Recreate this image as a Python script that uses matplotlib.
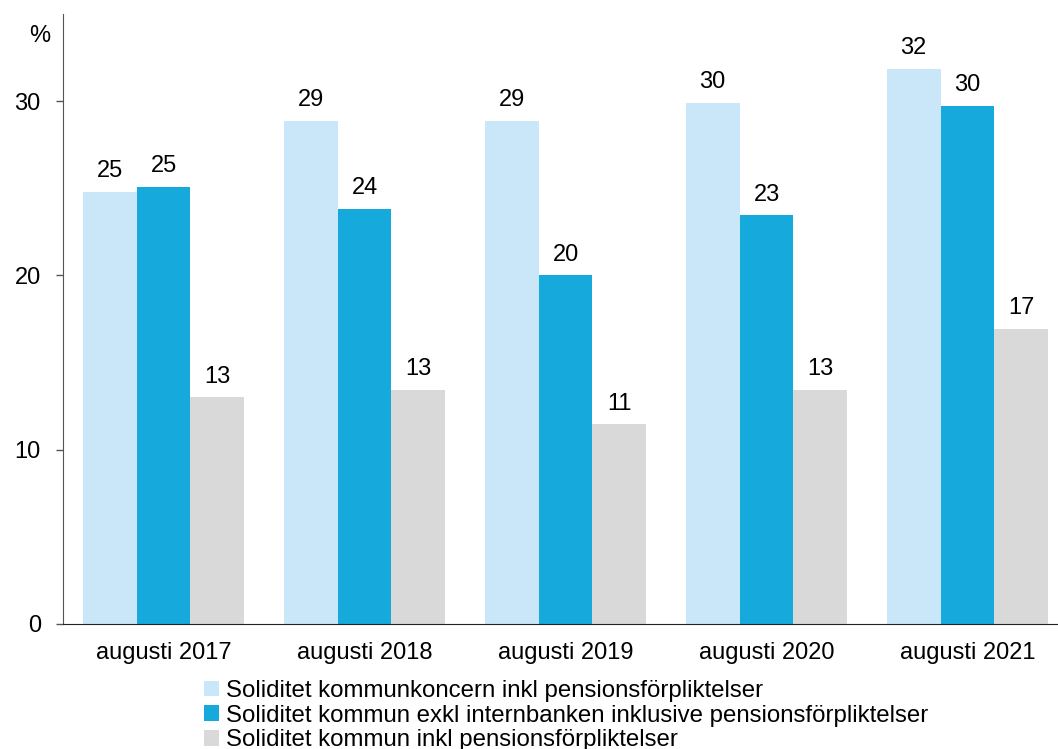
import numpy as np
import matplotlib.pyplot as plt

plt.rcParams['font.family'] = ['Liberation Sans', 'DejaVu Sans']

categories = ['augusti 2017', 'augusti 2018', 'augusti 2019', 'augusti 2020', 'augusti 2021']
koncern = [24.8, 28.85, 28.85, 29.9, 31.85]
exkl_internbank = [25.1, 23.8, 20.0, 23.45, 29.75]
kommun_inkl = [13.0, 13.45, 11.45, 13.45, 16.95]
series_names = ['Soliditet kommunkoncern inkl pensionsförpliktelser',
                'Soliditet kommun exkl internbanken inklusive pensionsförpliktelser',
                'Soliditet kommun inkl pensionsförpliktelser']
colors = ['#C9E7F8', '#15A9DC', '#D9D9D9']

fig = plt.figure(figsize=(10.58, 7.49), dpi=100)
ax = fig.add_axes([63 / 1058, 1 - 624 / 749, 1 - 63 / 1058, (624 - 14) / 749])

x = np.arange(len(categories))
w = 0.268
for i, (vals, name, c) in enumerate(zip([koncern, exkl_internbank, kommun_inkl], series_names, colors)):
    pos = x + (i - 1) * w
    ax.bar(pos, vals, width=w, color=c, label=name)
    for p, v in zip(pos, vals):
        ax.annotate(f'{v:.0f}', (p, v), xytext=(0, 7), textcoords='offset points',
                    ha='center', va='bottom', fontsize=17)

ax.set_xlim(-0.5, 4.45)
ax.set_ylim(0, 35)
ax.set_yticks([0, 10, 20, 30])
ax.set_xticks(x)
ax.set_xticklabels(categories)
ax.tick_params(axis='y', length=5, width=1, pad=11, labelsize=17, color='#555555')
ax.tick_params(axis='x', length=0, pad=13, labelsize=17)
for s in ['top', 'right']:
    ax.spines[s].set_visible(False)
ax.spines['left'].set_color('#555555')
ax.spines['bottom'].set_color('#222222')

fig.text(40 / 1058, 1 - 36 / 749, '%', fontsize=17, ha='center', va='center')

fig.legend(loc='upper left', bbox_to_anchor=(204 / 1058, 1 - 680 / 749), frameon=False,
           fontsize=17.3, handlelength=0.62, handleheight=0.62, handletextpad=0.3,
           labelspacing=0.11, borderpad=0, borderaxespad=0)

fig.savefig('out.png', dpi=100)
